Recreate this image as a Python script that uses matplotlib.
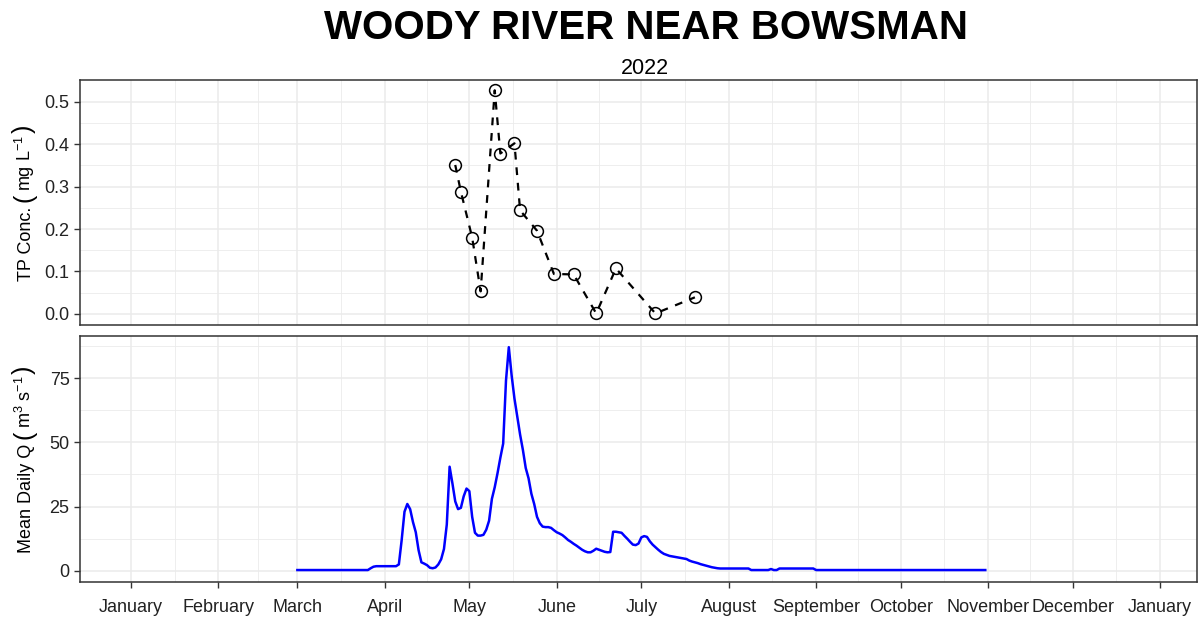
import numpy as np
import pandas as pd
import matplotlib
matplotlib.use('Agg')
import matplotlib.pyplot as plt
import matplotlib.dates as mdates
from matplotlib.transforms import IdentityTransform

plt.rcParams['font.family'] = ['Liberation Sans', 'DejaVu Sans']
plt.rcParams['mathtext.fontset'] = 'custom'
plt.rcParams['mathtext.rm'] = 'Liberation Sans'
plt.rcParams['mathtext.it'] = 'Liberation Sans:italic'

# total phosphorus grab samples
tp_dates = ['2022-04-26', '2022-04-28', '2022-05-02', '2022-05-05', '2022-05-10',
            '2022-05-12', '2022-05-17', '2022-05-19', '2022-05-25', '2022-05-31',
            '2022-06-07', '2022-06-15', '2022-06-22', '2022-07-06', '2022-07-20']
tp_conc = [0.351, 0.288, 0.180, 0.053, 0.527,
           0.378, 0.402, 0.244, 0.196, 0.094,
           0.093, 0.001, 0.107, 0.001, 0.039]

# mean daily discharge, 1 Mar - 31 Oct 2022
q_start = '2022-03-01'
q_end = '2022-10-31'
q_mean = [
    0.3, 0.3, 0.3, 0.3, 0.3, 0.3, 0.3, 0.3, 0.3, 0.3,
    0.3, 0.3, 0.3, 0.3, 0.3, 0.3, 0.3, 0.3, 0.3, 0.3,
    0.3, 0.3, 0.3, 0.3, 0.3, 0.3,
    1.0, 1.6, 1.8, 1.8, 1.8, 1.8, 1.8, 1.8, 1.8, 1.8,
    2.5, 12.0, 23.0, 26.0, 24.0, 19.0, 15.0, 8.0, 3.3, 2.8,
    2.2, 1.2, 1.0, 1.3, 2.5, 4.5, 8.5, 18.0, 40.5, 34.0,
    27.0, 24.0, 24.5, 29.0, 32.0, 31.0, 21.0, 14.8, 13.7, 13.7,
    14.0, 16.0, 19.5, 28.0, 32.5, 38.0, 44.0, 49.5, 74.0, 87.0,
    76.0, 67.0, 60.0, 53.0, 47.0, 40.0, 36.0, 30.0, 26.0, 21.0,
    18.5, 17.2, 17.0, 17.0, 16.7, 15.8, 15.0, 14.5, 13.9, 13.0,
    12.0, 11.3, 10.5, 9.8, 9.0, 8.2, 7.6, 7.2, 7.2, 7.8,
    8.6, 8.2, 7.8, 7.4, 7.2, 7.3, 15.2, 15.2, 15.0, 14.8,
    13.6, 12.5, 11.3, 10.2, 10.0, 10.6, 13.0, 13.5, 13.2, 11.5,
    10.2, 9.2, 8.2, 7.3, 6.6, 6.2, 5.8, 5.6, 5.4, 5.2,
    5.0, 4.8, 4.6, 4.0, 3.6, 3.3, 3.0, 2.6, 2.3, 2.0,
    1.7, 1.4, 1.2, 1.0,
    0.9, 0.9, 0.9, 0.9, 0.9, 0.9, 0.9, 0.9, 0.9, 0.9, 0.9,
    0.3, 0.3, 0.3, 0.3, 0.3, 0.3, 0.3, 0.7, 0.3, 0.3,
    0.9, 0.9, 0.9, 0.9, 0.9, 0.9, 0.9, 0.9, 0.9, 0.9, 0.9, 0.9, 0.9,
    0.3, 0.3, 0.3, 0.3, 0.3, 0.3, 0.3, 0.3, 0.3, 0.3,
    0.3, 0.3, 0.3, 0.3, 0.3, 0.3, 0.3, 0.3, 0.3, 0.3,
    0.3, 0.3, 0.3, 0.3, 0.3, 0.3, 0.3, 0.3, 0.3, 0.3,
    0.3, 0.3, 0.3, 0.3, 0.3, 0.3, 0.3, 0.3, 0.3, 0.3,
    0.3, 0.3, 0.3, 0.3, 0.3, 0.3, 0.3, 0.3, 0.3, 0.3,
    0.3, 0.3, 0.3, 0.3, 0.3, 0.3, 0.3, 0.3, 0.3, 0.3,
    0.3,
]

tp_x = pd.to_datetime(tp_dates)
q_x = pd.date_range(q_start, q_end, freq='D')

W, H = 1199, 617
fig = plt.figure(figsize=(W / 100, H / 100), dpi=100)
ax1 = fig.add_axes([80 / W, 1 - 325 / H, 1117 / W, 245 / H])
ax2 = fig.add_axes([80 / W, 1 - 582 / H, 1117 / W, 246 / H])

x0 = pd.Timestamp('2022-01-01')
xlim = (x0 - pd.Timedelta(days=18.1), x0 + pd.Timedelta(days=378.1))
majors = pd.date_range('2022-01-01', '2023-01-01', freq='MS')
minors = majors[:-1] + (majors[1:] - majors[:-1]) / 2

grid_col = '#EBEBEB'
for ax in (ax1, ax2):
    ax.set_xlim(xlim)
    ax.set_xticks(majors)
    ax.set_xticks(minors, minor=True)
    ax.xaxis.set_major_formatter(mdates.DateFormatter('%B'))
    ax.grid(which='major', color=grid_col, lw=1.1)
    ax.grid(which='minor', color=grid_col, lw=0.6)
    ax.set_axisbelow(True)
    for s in ax.spines.values():
        s.set_color('#333333')
        s.set_linewidth(1.1)
    ax.tick_params(which='major', length=4, width=1.0, color='#333333',
                   labelsize=13, labelcolor='#222222')
    ax.tick_params(which='minor', length=0)

# top: TP concentration
ax1.plot(tp_x, tp_conc, color='black', lw=1.6, ls=(0, (3.5, 3.5)))
ax1.plot(tp_x, tp_conc, ls='none', marker='o', ms=8.5, mfc='none',
         mec='black', mew=1.1)
ax1.set_ylim(-0.02625, 0.55125)
ax1.set_yticks([0.0, 0.1, 0.2, 0.3, 0.4, 0.5])
ax1.set_yticks([0.05, 0.15, 0.25, 0.35, 0.45], minor=True)
ax1.set_yticklabels(['0.0', '0.1', '0.2', '0.3', '0.4', '0.5'])
ax1.tick_params(axis='x', which='both', length=0, labelbottom=False)

# bottom: discharge
ax2.plot(q_x, q_mean, color='#0000FF', lw=1.8)
ax2.set_ylim(-4.35, 91.35)
ax2.set_yticks([0, 25, 50, 75])
ax2.set_yticks([12.5, 37.5, 62.5, 87.5], minor=True)
ax2.tick_params(axis='x', which='major', pad=8)

fig.text(646 / W, 1 - 28 / H, 'WOODY RIVER NEAR BOWSMAN', ha='center', va='center',
         fontsize=29, fontweight='bold')
fig.text(645 / W, 1 - 68 / H, '2022', ha='center', va='center', fontsize=15.5)


def rotated_label(x_base, y_mid, pieces):
    # pieces laid out bottom-to-top along a shared baseline (pixel coords)
    renderer = fig.canvas.get_renderer()
    items = []
    y = 0.0
    for s, fs, gap in pieces:
        t = fig.text(x_base, y, s, fontsize=fs, rotation=90, rotation_mode='anchor',
                     ha='left', va='baseline', transform=IdentityTransform())
        h = t.get_window_extent(renderer).height
        items.append((t, y))
        y += h + gap
    total = y
    start = y_mid - total / 2
    for t, yy in items:
        t.set_position((x_base, start + yy))


rotated_label(31, H - 203, [('TP Conc.', 13, 5), ('(', 18, 2),
                            ('mg L$^{-1}$', 13, 2), (')', 18, 0)])
rotated_label(31, H - 459, [('Mean Daily Q', 13, 5), ('(', 18, 2),
                            ('m$^3$ s$^{-1}$', 13, 2), (')', 18, 0)])

fig.savefig('out.png', dpi=100)
